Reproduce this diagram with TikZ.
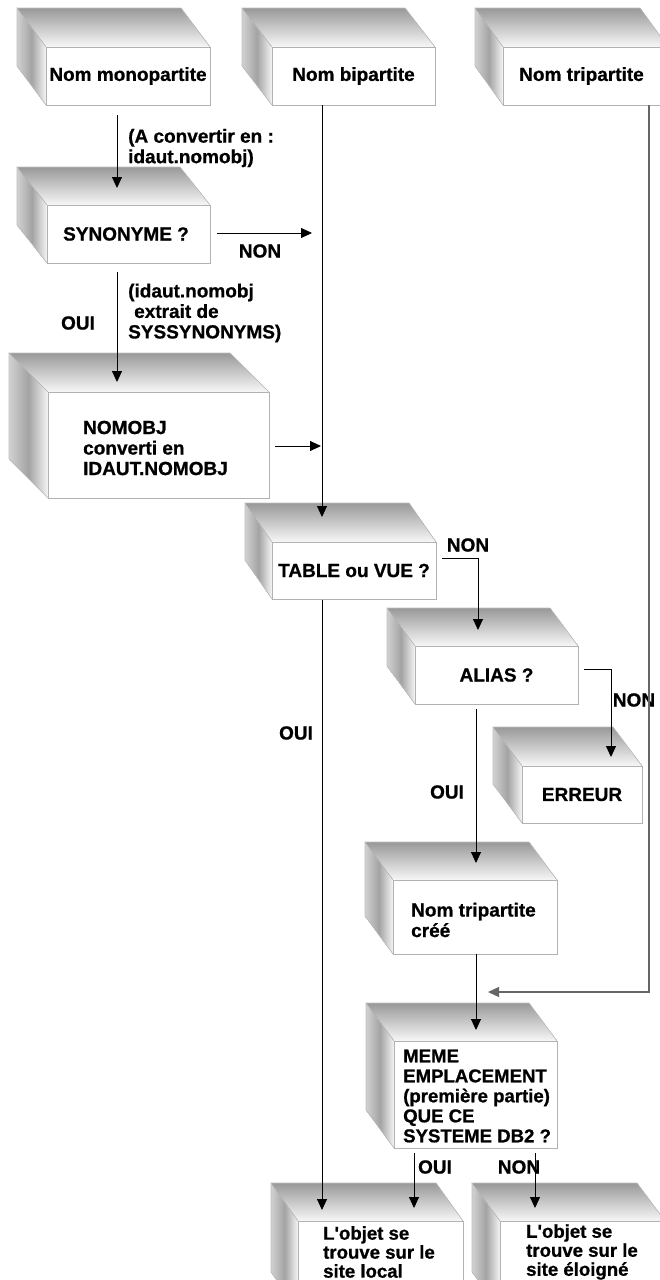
\documentclass[tikz,border=0pt]{standalone}
\usepackage{fontspec}
\setmainfont{Liberation Sans}[Ligatures=TeXOff, BoldFeatures={FakeBold=0.8}]
\usetikzlibrary{arrows.meta}
\tikzset{
  topshade/.style={top color=black!40, bottom color=black!3},
  leftshade/.style={left color=black!18, right color=black!4, middle color=black!36},
  cubeedge/.style={draw=black!25, line width=0.6pt},
  front/.style={draw=black!30, fill=white, line width=0.8pt, inner sep=0pt,
    font=\fontsize{19}{20.5}\selectfont\bfseries},
  lbl/.style={inner sep=0pt, align=left, font=\fontsize{19}{20.5}\selectfont\bfseries},
  arr/.style={-{Triangle[width=10pt,length=11pt]}, line width=0.9pt},
  grayarr/.style={-{Triangle[width=10pt,length=11pt]}, line width=1.3pt, color=black!60}
}
\newcommand{\cube}[8]{% name x1 y1 x2 y2 dx dy text
  \fill[topshade] (#2-#6,#3-#7) -- (#4-#6,#3-#7) -- (#4,#3) -- (#2,#3) -- cycle;
  \fill[leftshade] (#2-#6,#3-#7) -- (#2,#3) -- (#2,#5) -- (#2-#6,#5-#7) -- cycle;
  \draw[cubeedge] (#2,#3) -- (#2-#6,#3-#7) -- (#4-#6,#3-#7) -- (#4,#3);
  \draw[cubeedge] (#2-#6,#3-#7) -- (#2-#6,#5-#7) -- (#2,#5);
  \node[front, minimum width={#4-#2}, minimum height={#5-#3}] (#1) at ({(#2+#4)/2},{(#3+#5)/2}) {#8};
}
\begin{document}
\begin{tikzpicture}[x=1pt,y=-1pt]
\useasboundingbox (0,0) rectangle (660,1280);
\clip (0,0) rectangle (660,1280);
% boxes
\cube{mono}{46}{47}{210}{105}{29}{39}{Nom monopartite}
\cube{bi}{272}{47}{435}{105}{30}{39}{Nom bipartite}
\cube{tri}{503}{47}{668}{105}{28}{39}{\hspace*{-4pt}Nom tripartite\hspace*{4pt}}
\cube{syn}{47}{205}{210}{263}{30}{38}{\hspace*{-5pt}SYNONYME ?}
\cube{nomobj}{48}{392}{269}{498}{39}{39}{}
\cube{table}{272}{542}{436}{599}{27}{39}{TABLE ou VUE ?}
\cube{alias}{415}{646}{578}{704}{28}{38}{\raisebox{-3pt}{ALIAS ?}}
\cube{erreur}{522}{766}{642}{823}{29}{39}{ERREUR}
\cube{cree}{393}{880}{557}{954}{28}{38}{}
\cube{meme}{394}{1041}{557}{1148}{28}{38}{}
\cube{local}{298}{1221}{463}{1310}{27}{38}{}
\cube{loin}{500}{1221}{665}{1310}{28}{38}{}
% texts inside boxes
\node[lbl, anchor=west] (tnomobj) at (83,448) {NOMOBJ\\converti en\\IDAUT.NOMOBJ};
\node[lbl, anchor=west] (tcree) at (411,920) {Nom tripartite\\cr\'e\'e};
\node[lbl, anchor=west, font=\fontsize{18.6}{20}\selectfont\bfseries] (tmeme) at (403,1096) {MEME\\EMPLACEMENT\\(premi\`ere partie)\\QUE CE\\SYSTEME DB2 ?};
\node[lbl, anchor=west, font=\fontsize{18.6}{19}\selectfont\bfseries] (tlocal) at (323,1252) {L'objet se\\trouve sur le\\site local};
\node[lbl, anchor=west, font=\fontsize{18.6}{19}\selectfont\bfseries] (tloin) at (526,1252) {L'objet se\\trouve sur le\\site \'eloign\'e};
% labels
\node[lbl, anchor=west] (lconv) at (128,148) {(A convertir en :\\idaut.nomobj)};
\node[lbl, anchor=west] (lextr) at (128,313) {(idaut.nomobj\\\hspace*{6pt}extrait de\\SYSSYNONYMS)};
\node[lbl] (lnon1) at (260,251) {NON};
\node[lbl] (loui1) at (78,323) {OUI};
\node[lbl] (lnon2) at (468,545) {NON};
\node[lbl] (loui2) at (296,733) {OUI};
\node[lbl] (lnon3) at (634,700) {NON};
\node[lbl] (loui3) at (447,792) {OUI};
\node[lbl] (loui4) at (435,1167) {OUI};
\node[lbl] (lnon4) at (519,1167) {NON};
% connector end points
\coordinate (p1a) at (117,115); \coordinate (p1b) at (117,188);
\coordinate (p2a) at (217,233); \coordinate (p2b) at (312,233);
\coordinate (p3b) at (322,517);
\coordinate (p4a) at (117,272); \coordinate (p4b) at (117,382);
\coordinate (p5a) at (275,446); \coordinate (p5b) at (321,446);
\coordinate (p6a) at (322,600); \coordinate (p6b) at (322,1210);
\coordinate (p7a) at (442,558); \coordinate (p7b) at (478,630);
\coordinate (p8a) at (584,669); \coordinate (p8b) at (611,757);
\coordinate (p9a) at (476,709); \coordinate (p9b) at (476,863);
\coordinate (p10b) at (476,1030);
\coordinate (p11a) at (649,105); \coordinate (p11b) at (488,992);
\coordinate (p12a) at (414,1153); \coordinate (p12b) at (414,1208);
\coordinate (p13a) at (535,1153); \coordinate (p13b) at (535,1208);
% connectors
\draw[arr] (p1a) -- (p1b);
\draw[arr] (p2a) -- (p2b);
\draw[arr] (bi.south -| p3b) -- (p3b);
\draw[arr] (p4a) -- (p4b);
\draw[arr] (p5a) -- (p5b);
\draw[arr] (p6a) -- (p6b);
\draw[arr] (p7a) -| (p7b);
\draw[arr] (p8a) -| (p8b);
\draw[arr] (p9a) -- (p9b);
\draw[arr] (cree.south -| p10b) -- (p10b);
\draw[grayarr] (p11a) |- (p11b);
\draw[arr] (p12a) -- (p12b);
\draw[arr] (p13a) -- (p13b);
\end{tikzpicture}
\end{document}
